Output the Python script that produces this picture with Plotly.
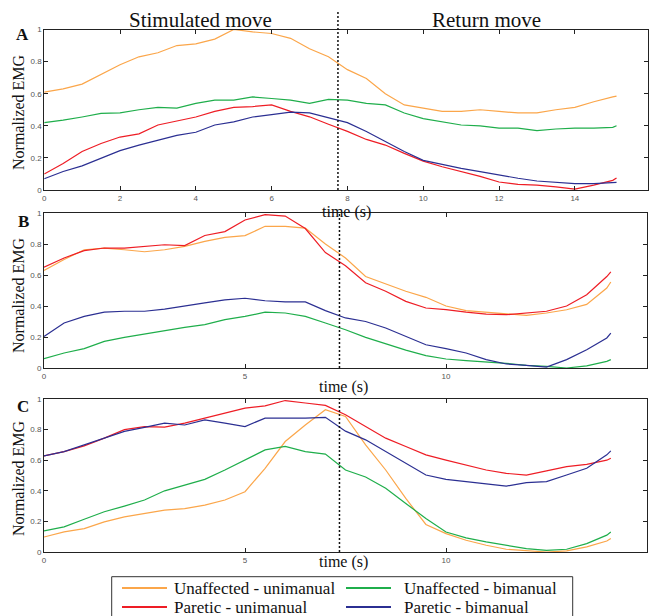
import plotly.graph_objects as go

# ---------------- data ----------------
series_names = ["Unaffected - unimanual", "Unaffected - bimanual",
                "Paretic - unimanual", "Paretic - bimanual"]
series_colors = ["#FBA64A", "#1FAE4B", "#EE1D25", "#2B2F92"]

time_a = [0, 0.5, 1, 1.5, 2, 2.5, 3, 3.5, 4, 4.5, 5, 5.5, 6, 6.5, 7, 7.5,
          8, 8.5, 9, 9.5, 10, 10.5, 11, 11.5, 12, 12.5, 13, 13.5, 14, 14.5, 15, 15.1]
a_unaff_uni = [0.61, 0.63, 0.66, 0.72, 0.78, 0.83, 0.855, 0.90, 0.91, 0.94, 1.0, 0.985,
               0.975, 0.945, 0.88, 0.83, 0.75, 0.695, 0.60, 0.53, 0.51, 0.49, 0.49, 0.50,
               0.49, 0.48, 0.48, 0.50, 0.515, 0.55, 0.58, 0.585]
a_unaff_bi = [0.42, 0.435, 0.455, 0.477, 0.48, 0.50, 0.515, 0.51, 0.54, 0.56, 0.56, 0.58,
              0.57, 0.56, 0.54, 0.565, 0.56, 0.54, 0.53, 0.48, 0.445, 0.425, 0.405, 0.40,
              0.385, 0.385, 0.37, 0.38, 0.385, 0.385, 0.39, 0.40]
a_par_uni = [0.10, 0.165, 0.24, 0.29, 0.33, 0.35, 0.405, 0.43, 0.455, 0.49, 0.515, 0.52,
             0.53, 0.49, 0.456, 0.41, 0.365, 0.315, 0.28, 0.228, 0.18, 0.145, 0.115, 0.085,
             0.05, 0.035, 0.03, 0.02, 0.005, 0.03, 0.06, 0.075]
a_par_bi = [0.07, 0.115, 0.15, 0.195, 0.245, 0.28, 0.31, 0.34, 0.36, 0.405, 0.425, 0.455,
            0.47, 0.485, 0.48, 0.45, 0.42, 0.365, 0.30, 0.24, 0.185, 0.16, 0.135, 0.115,
            0.093, 0.073, 0.056, 0.046, 0.04, 0.04, 0.046, 0.048]

time_bc = [0, 0.5, 1, 1.5, 2, 2.5, 3, 3.5, 4, 4.5, 5, 5.5, 6, 6.5, 7, 7.5,
           8, 8.5, 9, 9.5, 10, 10.5, 11, 11.5, 12, 12.5, 13, 13.5, 14, 14.1]
b_unaff_uni = [0.63, 0.70, 0.763, 0.774, 0.763, 0.75, 0.763, 0.785, 0.817, 0.843, 0.854, 0.914,
               0.914, 0.903, 0.80, 0.71, 0.59, 0.54, 0.495, 0.456, 0.40, 0.37, 0.361, 0.348,
               0.34, 0.355, 0.376, 0.41, 0.516, 0.555]
b_unaff_bi = [0.06, 0.097, 0.125, 0.172, 0.198, 0.22, 0.24, 0.262, 0.28, 0.312, 0.333, 0.36,
              0.355, 0.333, 0.29, 0.247, 0.198, 0.155, 0.115, 0.08, 0.058, 0.047, 0.04, 0.03,
              0.017, 0.011, 0.0, 0.014, 0.043, 0.054]
b_par_uni = [0.65, 0.71, 0.757, 0.774, 0.774, 0.785, 0.795, 0.79, 0.855, 0.88, 0.955, 0.99,
             0.98, 0.90, 0.745, 0.66, 0.55, 0.495, 0.43, 0.387, 0.376, 0.36, 0.348, 0.344,
             0.355, 0.366, 0.40, 0.473, 0.59, 0.62]
b_par_bi = [0.204, 0.29, 0.333, 0.36, 0.366, 0.366, 0.38, 0.398, 0.42, 0.44, 0.45, 0.434,
            0.426, 0.426, 0.37, 0.323, 0.30, 0.258, 0.204, 0.15, 0.125, 0.097, 0.054, 0.026,
            0.017, 0.006, 0.054, 0.118, 0.194, 0.225]

c_unaff_uni = [0.098, 0.131, 0.153, 0.197, 0.23, 0.252, 0.274, 0.284, 0.306, 0.34, 0.394, 0.547,
               0.722, 0.83, 0.93, 0.886, 0.70, 0.536, 0.35, 0.18, 0.12, 0.077, 0.044, 0.018,
               0.007, 0.0, 0.007, 0.033, 0.072, 0.088]
c_unaff_bi = [0.138, 0.164, 0.214, 0.263, 0.30, 0.34, 0.40, 0.44, 0.475, 0.536, 0.60, 0.667,
              0.69, 0.656, 0.64, 0.536, 0.49, 0.416, 0.317, 0.219, 0.131, 0.092, 0.066, 0.044,
              0.022, 0.011, 0.018, 0.055, 0.11, 0.131]
c_par_uni = [0.628, 0.656, 0.694, 0.744, 0.80, 0.82, 0.816, 0.842, 0.875, 0.908, 0.94, 0.955,
             0.99, 0.974, 0.958, 0.897, 0.82, 0.744, 0.69, 0.635, 0.60, 0.569, 0.536, 0.514,
             0.503, 0.53, 0.558, 0.573, 0.60, 0.613]
c_par_bi = [0.628, 0.656, 0.70, 0.744, 0.788, 0.814, 0.842, 0.83, 0.864, 0.842, 0.82, 0.875,
            0.875, 0.875, 0.88, 0.79, 0.733, 0.656, 0.58, 0.503, 0.475, 0.46, 0.449, 0.431,
            0.453, 0.46, 0.503, 0.547, 0.635, 0.661]

boundary_times = [7.75, 7.35, 7.35]
panel_letters = ["A", "B", "C"]
phase_titles = ["Stimulated move", "Return move"]
y_ticks = [0, 0.2, 0.4, 0.6, 0.8, 1]
x_ticks_a = [0, 2, 4, 6, 8, 10, 12, 14, 16]
x_ticks_bc = [0, 5, 10, 15]

# ---------------- figure ----------------
W, H = 649, 616
def px(x): return x / W
def py(y): return 1 - y / H

SERIF = "Liberation Serif, Times New Roman, serif"
SANS = "Liberation Sans, Arial, sans-serif"

fig = go.Figure()
panels = [
    ("x", "y", time_a, [a_unaff_uni, a_unaff_bi, a_par_uni, a_par_bi]),
    ("x2", "y2", time_bc, [b_unaff_uni, b_unaff_bi, b_par_uni, b_par_bi]),
    ("x3", "y3", time_bc, [c_unaff_uni, c_unaff_bi, c_par_uni, c_par_bi]),
]
for pi, (xa, ya, t, ser) in enumerate(panels):
    for si, vals in enumerate(ser):
        fig.add_trace(go.Scatter(
            x=t, y=vals, xaxis=xa, yaxis=ya, mode="lines",
            name=series_names[si], legendgroup=series_names[si],
            showlegend=False,
            line=dict(color=series_colors[si], width=1.2),
        ))

axis_common = dict(showline=True, linecolor="#222", linewidth=1, mirror="ticks",
                   ticks="inside", ticklen=4, tickcolor="#222", tickwidth=1,
                   showgrid=False, zeroline=False, automargin=False,
                   tickfont=dict(family=SANS, size=8, color="#555"))

fig.update_layout(
    width=W, height=H, margin=dict(l=0, r=0, t=0, b=0, autoexpand=False),
    paper_bgcolor="white", plot_bgcolor="white", showlegend=False,
    xaxis=dict(domain=[px(44.2), px(648)], range=[0, 15.93], tickvals=x_ticks_a,
               anchor="y", **axis_common),
    yaxis=dict(domain=[py(190), py(29.5)], range=[0, 1], tickvals=y_ticks,
               anchor="x", **axis_common),
    xaxis2=dict(domain=[px(44), px(647)], range=[0, 15], tickvals=x_ticks_bc,
                anchor="y2", **axis_common),
    yaxis2=dict(domain=[py(368), py(213)], range=[0, 1], tickvals=y_ticks,
                anchor="x2", **axis_common),
    xaxis3=dict(domain=[px(44), px(647)], range=[0, 15], tickvals=x_ticks_bc,
                anchor="y3", **axis_common),
    yaxis3=dict(domain=[py(552), py(399)], range=[0, 1], tickvals=y_ticks,
                anchor="x3", **axis_common),
)

# dotted phase boundaries
dot = dict(color="#111", width=1.5, dash="2px,2px")
fig.add_shape(type="line", xref="x", yref="paper", x0=boundary_times[0], x1=boundary_times[0],
              y0=py(190), y1=py(12), line=dot)
fig.add_shape(type="line", xref="x2", yref="paper", x0=boundary_times[1], x1=boundary_times[1],
              y0=py(368), y1=py(213), line=dot)
fig.add_shape(type="line", xref="x3", yref="paper", x0=boundary_times[2], x1=boundary_times[2],
              y0=py(552), y1=py(399), line=dot)

# legend box (drawn; bottom edge runs off the page as in the reference)
fig.add_shape(type="rect", xref="paper", yref="paper", x0=px(111.7), x1=px(572.7),
              y0=py(640), y1=py(576.7), line=dict(color="#333", width=1), fillcolor="white",
              layer="above")
legend_slots = [(122, 588), (346, 588), (122, 607), (346, 607)]
legend_text_x = [172, 402, 172, 402]
ann = []
for si, ((lx, ly), tx) in enumerate(zip(legend_slots, legend_text_x)):
    fig.add_shape(type="line", xref="paper", yref="paper", x0=px(lx), x1=px(lx + 45),
                  y0=py(ly), y1=py(ly), line=dict(color=series_colors[si], width=2),
                  layer="above")
    ann.append(dict(text=series_names[si], x=px(tx), y=py(ly), xanchor="left",
                    font=dict(family=SERIF, size=17)))

ann.append(dict(text=phase_titles[0], x=px(200), y=py(20), font=dict(family=SERIF, size=21)))
ann.append(dict(text=phase_titles[1], x=px(486), y=py(20), font=dict(family=SERIF, size=21)))
for letter, (lx, ly) in zip(panel_letters, [(22, 35), (23, 221), (23, 406)]):
    ann.append(dict(text="<b>%s</b>" % letter, x=px(lx), y=py(ly), font=dict(family=SERIF, size=17)))
for cy in [112, 295, 478]:
    ann.append(dict(text="Normalized EMG", x=px(18), y=py(cy), textangle=-90,
                    font=dict(family=SERIF, size=16)))
for cx, cy in [(346, 211.5), (343, 387), (343, 562)]:
    ann.append(dict(text="time (s)", x=px(cx), y=py(cy), font=dict(family=SERIF, size=16)))
for a in ann:
    a.setdefault("xanchor", "center")
    a.update(xref="paper", yref="paper", showarrow=False, yanchor="middle")
    a["font"]["color"] = "#111"
fig.update_layout(annotations=ann)

# remove the default 8px page margin so the figure sits at the window's origin
fig.write_html("out.html", config={"displayModeBar": False},
               post_script="document.body.style.margin='0';document.body.style.overflow='hidden';")
